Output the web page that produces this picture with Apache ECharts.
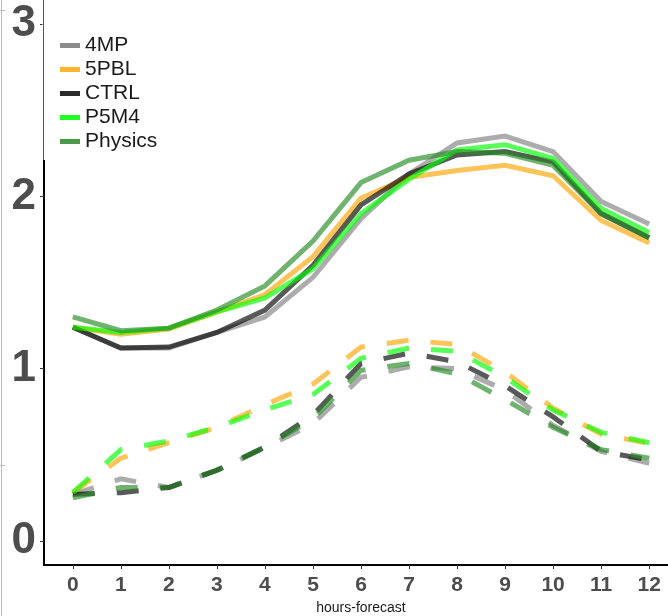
<!DOCTYPE html>
<html>
<head>
<meta charset="utf-8">
<script src="https://cdn.jsdelivr.net/npm/echarts@6/dist/echarts.min.js"></script>
<style>html,body{margin:0;padding:0;background:#fff;}#c{width:668px;height:616px;}</style>
</head>
<body>
<div id="c"></div>
<script>
const hours = [0,1,2,3,4,5,6,7,8,9,10,11,12];
const names = ['4MP','5PBL','CTRL','P5M4','Physics'];
const xTicks = [0,1,2,3,4,5,6,7,8,9,10,11,12];
const yTicks = [0,1,2,3];
// upper group (solid lines)
const solid4MP    = [1.24,1.12,1.12,1.21,1.30,1.53,1.87,2.13,2.31,2.35,2.26,1.97,1.84];
const solid5PBL   = [1.24,1.20,1.23,1.33,1.43,1.65,1.99,2.11,2.15,2.18,2.12,1.86,1.73];
const solidCTRL   = [1.24,1.12,1.125,1.21,1.34,1.60,1.95,2.13,2.24,2.26,2.20,1.90,1.76];
const solidP5M4   = [1.24,1.21,1.235,1.33,1.41,1.58,1.90,2.10,2.27,2.30,2.22,1.93,1.79];
const solidPhys   = [1.30,1.22,1.235,1.34,1.48,1.74,2.08,2.21,2.26,2.25,2.18,1.90,1.76];
// lower group (dashed lines)
const dash4MP     = [0.27,0.36,0.31,0.41,0.54,0.68,0.95,1.01,1.00,0.875,0.67,0.52,0.45];
const dash5PBL    = [0.28,0.48,0.57,0.66,0.79,0.91,1.125,1.165,1.14,0.98,0.77,0.62,0.565];
const dashCTRL    = [0.27,0.28,0.31,0.41,0.545,0.73,1.03,1.09,1.04,0.90,0.72,0.52,0.47];
const dashP5M4    = [0.28,0.53,0.58,0.66,0.76,0.85,1.06,1.12,1.10,0.95,0.76,0.63,0.57];
const dashPhys    = [0.25,0.31,0.31,0.41,0.545,0.71,0.99,1.03,0.97,0.82,0.66,0.53,0.48];

const lineColors = ['#808080','#FFA500','#000000','#00FF00','#228B22'];
const legendColors = ['#8c8c8c','#FFB52E','#2b2b2b','#22FF22','#4A9A4A'];
const solidData = [solid4MP, solid5PBL, solidCTRL, solidP5M4, solidPhys];
const dashData = [dash4MP, dash5PBL, dashCTRL, dashP5M4, dashPhys];

function mk(name, color, vals, dashed){
  return {
    name: name, type: 'line', data: hours.map((h,i)=>[h, vals[i]]),
    symbol: 'none', animation: false, silent: true,
    itemStyle: {color: color},
    lineStyle: {color: color, width: 5, opacity: 0.65, type: dashed ? [22,22] : 'solid', cap: 'butt', join: 'miter'}
  };
}
const series = [];
names.forEach((n,i)=>series.push(mk(n, lineColors[i], solidData[i], false)));
names.forEach((n,i)=>series.push(mk(n, lineColors[i], dashData[i], true)));

const chart = echarts.init(document.getElementById('c'), null, {renderer:'canvas'});
chart.setOption({
  backgroundColor: '#ffffff',
  animation: false,
  grid: {left: 44, top: 0, width: 634, height: 565, containLabel: false, outerBoundsMode: 'none'},
  legend: {
    orient: 'vertical', left: 55, top: 30, icon: 'rect', itemWidth: 20, itemHeight: 5,
    itemGap: 3, itemTextGap: 10, selectedMode: false,
    textStyle: {fontFamily: 'Liberation Sans, Arial, sans-serif', fontSize: 21, color: '#1a1a1a'},
    data: names.map((n,i)=>({name: n, itemStyle: {color: legendColors[i], opacity: 1}, lineStyle: {opacity: 0}}))
  },
  xAxis: {
    type: 'value', min: -0.6, max: 12.6,
    name: 'hours-forecast', nameLocation: 'middle', nameGap: 35,
    nameTextStyle: {fontFamily: 'Liberation Sans, Arial, sans-serif', fontSize: 14, color: '#1a1a1a'},
    axisLine: {show: true, onZero: false, lineStyle: {color: '#000', width: 2}},
    axisTick: {show: true, length: 4, customValues: xTicks, lineStyle: {color: '#333', width: 1}},
    axisLabel: {customValues: xTicks, margin: 10, fontFamily: 'Liberation Sans, Arial, sans-serif', fontWeight: 'bold', fontSize: 21, color: '#4d4d4d'},
    splitLine: {show: false}
  },
  yAxis: {
    type: 'value', min: -0.14, max: 3.14,
    axisLine: {show: true, onZero: false, lineStyle: {color: '#000', width: 2}},
    axisTick: {show: true, length: 4, customValues: yTicks, lineStyle: {color: '#333', width: 1}},
    axisLabel: {customValues: yTicks, margin: 8, fontFamily: 'Liberation Sans, Arial, sans-serif', fontWeight: 'bold', fontSize: 44, color: '#4d4d4d'},
    splitLine: {show: false}
  },
  graphic: [
    {type: 'line', shape: {x1: 44, y1: 0, x2: 44, y2: 160}, style: {stroke: '#ffffff', lineWidth: 3}, z: 100},
    {type: 'line', shape: {x1: 43.5, y1: 0, x2: 43.5, y2: 160}, style: {stroke: '#555555', lineWidth: 1}, z: 101},
    {type: 'line', shape: {x1: 1.5, y1: 0, x2: 1.5, y2: 616}, style: {stroke: '#bbbbbb', lineWidth: 1}, z: 100},
    {type: 'line', shape: {x1: 0, y1: 10.5, x2: 5, y2: 10.5}, style: {stroke: '#bbbbbb', lineWidth: 1}, z: 100},
    {type: 'line', shape: {x1: 0, y1: 465.5, x2: 5, y2: 465.5}, style: {stroke: '#bbbbbb', lineWidth: 1}, z: 100}
  ],
  series: series
});
</script>
</body>
</html>
